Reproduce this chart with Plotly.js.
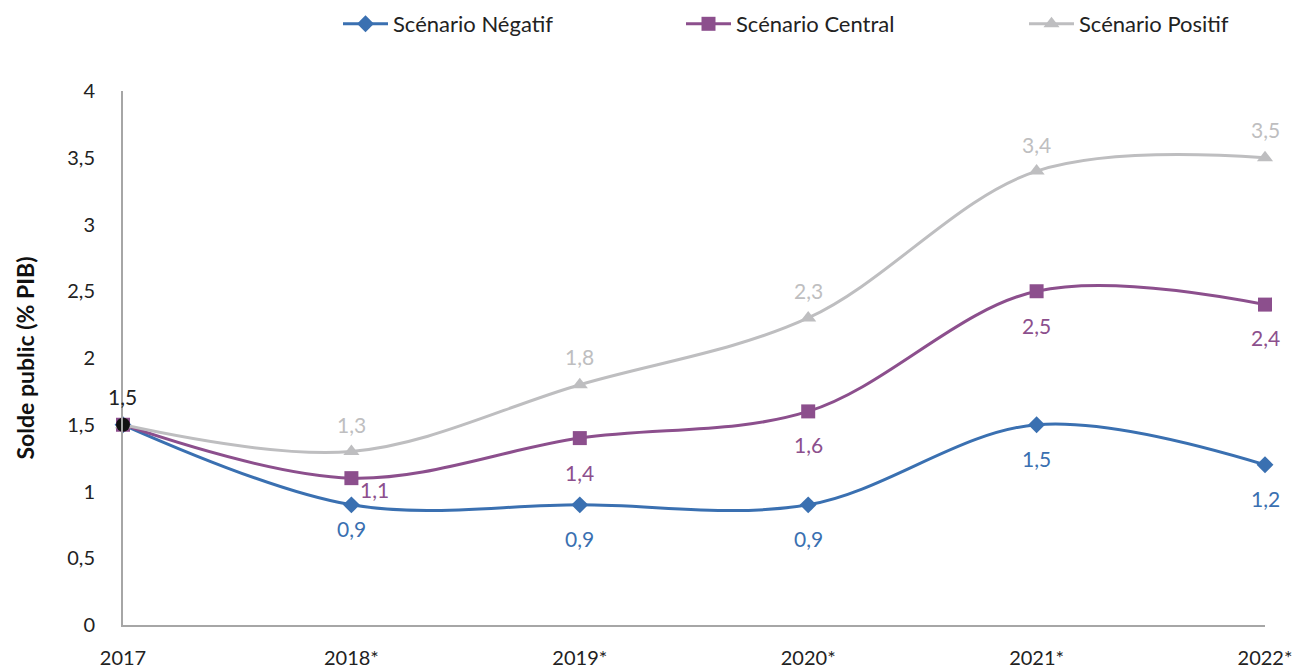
<!DOCTYPE html>
<html>
<head>
<meta charset="utf-8">
<script src="https://cdn.plot.ly/plotly-3.0.1.min.js"></script>
<style>html,body{margin:0;padding:0;background:#fff;}#chart{width:1298px;height:671px;}</style>
</head>
<body>
<div id="chart"></div>
<script>
const years = ['2017', '2018*', '2019*', '2020*', '2021*', '2022*'];
const negatif = [1.5, 0.9, 0.9, 0.9, 1.5, 1.2];
const central = [1.5, 1.1, 1.4, 1.6, 2.5, 2.4];
const positif = [1.5, 1.3, 1.8, 2.3, 3.4, 3.5];
const start = [1.5];

const FONT = 'Source Sans Pro, Lato, Noto Sans, sans-serif';
const COLORS = {neg: '#3a70b1', cen: '#8c4f8d', pos: '#bebec0'};
const idx = years.map((_, i) => i);
const fmt = v => String(v).replace('.', ',');

function series(name, y, color, symbol, size) {
  return {
    x: idx, y: y, name: name, type: 'scatter', mode: 'lines+markers',
    line: {color: color, width: 3, shape: 'spline', smoothing: 1},
    marker: {color: color, symbol: symbol, size: size},
    cliponaxis: false
  };
}

const traces = [
  series('Scénario Négatif', negatif, COLORS.neg, 'diamond', 13),
  series('Scénario Central', central, COLORS.cen, 'square', 14),
  series('Scénario Positif', positif, COLORS.pos, 'triangle-up', 14),
  {
    x: [0], y: start, type: 'scatter', mode: 'markers', showlegend: false,
    marker: {color: '#111', size: 14}, cliponaxis: false
  }
];

// label offsets (style only): [xshift, yshift] per point
function labels(y, color, shifts) {
  const out = [];
  y.forEach((v, i) => {
    if (i === 0) return;
    out.push({
      x: i, y: v, xref: 'x', yref: 'y', text: fmt(v), showarrow: false,
      xshift: shifts[i][0], yshift: shifts[i][1],
      font: {family: FONT, size: 21, color: color}
    });
  });
  return out;
}

const annotations = [].concat(
  labels(negatif, COLORS.neg, [[0,0],[0,-24],[0,-34],[0,-34],[0,-34],[0,-34]]),
  labels(central, COLORS.cen, [[0,0],[23,-11],[0,-34],[0,-33],[0,-34],[0,-33]]),
  labels(positif, COLORS.pos, [[0,0],[0,27],[0,28],[0,27],[0,27],[0,28]]),
  [{x: 0, y: start[0], xref: 'x', yref: 'y', text: fmt(start[0]), showarrow: false,
    xshift: -1, yshift: 28, font: {family: FONT, size: 21, color: '#222'}}]
);

const layout = {
  width: 1298, height: 671,
  margin: {l: 123, r: 33, t: 91, b: 46},
  paper_bgcolor: '#fff', plot_bgcolor: '#fff',
  separators: ', ',
  font: {family: FONT, size: 20, color: '#222'},
  showlegend: true,
  annotations: annotations,
  legend: {orientation: 'h', xref: 'container', yref: 'container',
           x: 338 / 1298, xanchor: 'left', y: 1 - 24 / 671, yanchor: 'middle',
           entrywidth: 283, entrywidthmode: 'pixels', itemwidth: 45,
           font: {family: FONT, size: 22, color: '#222'}, traceorder: 'normal'},
  xaxis: {
    range: [0, 5], tickvals: idx, ticktext: years, showgrid: false, zeroline: false,
    showline: true, linecolor: '#a6a6a6', linewidth: 2, ticks: '', ticklabelstandoff: 14,
    tickfont: {family: FONT, size: 20, color: '#222'}
  },
  yaxis: {
    range: [0, 4], dtick: 0.5, tick0: 0, showgrid: false, zeroline: false,
    showline: true, linecolor: '#a6a6a6', linewidth: 2, ticks: '', ticklabelstandoff: 22,
    tickfont: {family: FONT, size: 20, color: '#222'},
    title: {text: 'Solde public (% PIB)', font: {family: FONT, size: 23, color: '#111', weight: 'bold'}, standoff: 26}
  }
};

Plotly.newPlot('chart', traces, layout, {displayModeBar: false, staticPlot: true});
</script>
</body>
</html>
